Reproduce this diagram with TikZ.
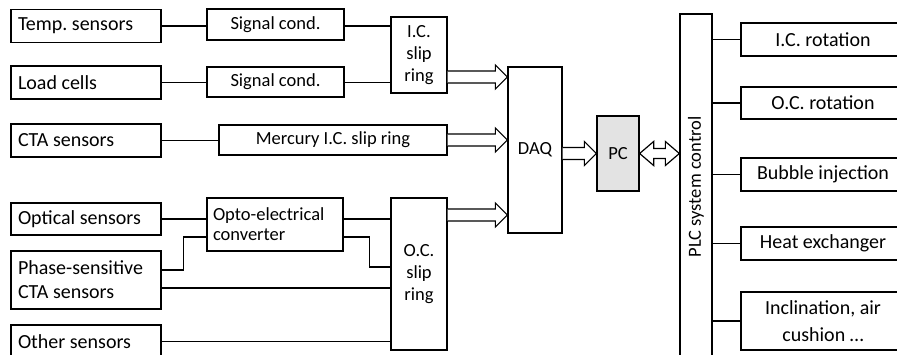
\documentclass[tikz,border=0pt]{standalone}
\usepackage{fontspec}
\setmainfont{Carlito}
\usetikzlibrary{calc}
\frenchspacing
\newcommand{\bigsize}{\fontsize{20}{24}\selectfont}
\newcommand{\smallsize}{\fontsize{18.5}{22}\selectfont}
% hollow arrow, from the y of #1 to the x of #2
\newcommand{\fatarrow}[2]{%
  \draw[fat] let \p1=(#1), \p2=(#2) in
    (\x1,\y1+6pt) -- (\x2-12pt,\y1+6pt) -- (\x2-12pt,\y1+12pt) -- (\x2,\y1)
    -- (\x2-12pt,\y1-12pt) -- (\x2-12pt,\y1-6pt) -- (\x1,\y1-6pt);}
\newcommand{\fatdarrow}[2]{%
  \draw[fat] let \p1=(#1), \p2=(#2) in
    (\x1,\y1) -- (\x1+14pt,\y1+12pt) -- (\x1+14pt,\y1+5pt) -- (\x2-14pt,\y1+5pt)
    -- (\x2-14pt,\y1+12pt) -- (\x2,\y1) -- (\x2-14pt,\y1-12pt) -- (\x2-14pt,\y1-5pt)
    -- (\x1+14pt,\y1-5pt) -- (\x1+14pt,\y1-12pt) -- cycle;}
\begin{document}
\begin{tikzpicture}[x=1pt,y=-1pt,
  box/.style={draw,line width=1.3pt,inner sep=0pt,font=\bigsize},
  sensor/.style={box,text width=136pt,align=flush left,inner xsep=7pt},
  cond/.style={box,font=\smallsize,align=center},
  outbox/.style={box,minimum width=164pt,align=center},
  link/.style={line width=1.2pt},
  fat/.style={line width=1.2pt,fill=white,line join=miter}]
\useasboundingbox (0,0) rectangle (897,355);
\clip (0,0) rectangle (897,355);
\node[sensor,minimum height=33pt] (temp) at (86,26) {Temp. sensors};
\node[sensor,minimum height=33pt] (load) at (86,82.5) {Load cells};
\node[sensor,minimum height=33pt] (cta) at (86,140.5) {CTA sensors};
\node[sensor,minimum height=32pt] (optical) at (86,219) {Optical sensors};
\node[sensor,minimum height=58pt] (phase) at (86,280) {Phase-sensitive\\CTA sensors};
\node[sensor,minimum height=33pt] (other) at (86,341.5) {Other sensors};
\node[cond,minimum width=137pt,minimum height=31pt] (cond1) at (275.5,24.5) {Signal cond.};
\node[cond,minimum width=137pt,minimum height=30pt] (cond2) at (275.5,82) {Signal cond.};
\node[cond,minimum width=228pt,minimum height=30pt] (mercury) at (333,140) {Mercury I.C. slip ring};
\node[cond,text width=124pt,align=flush left,inner xsep=6pt,minimum height=53pt,
  font=\fontsize{18.5}{20}\selectfont] (opto) at (275,224.5) {Opto-electrical\\converter};
\node[cond,minimum width=56pt,minimum height=76pt] (icslip) at (419,55) {I.C.\\slip\\ring};
\node[cond,minimum width=56pt,minimum height=152pt] (ocslip) at (419,274) {O.C.\\slip\\ring};
\node[cond,minimum width=54pt,minimum height=166pt] (daq) at (535,150) {DAQ};
\node[cond,minimum width=42pt,minimum height=75pt,fill=gray!22] (pc) at (618,153.5) {PC};
\node[cond,rotate=90,minimum width=346pt,minimum height=32pt] (plc) at (696,187) {PLC system control};
\node[outbox,minimum height=33pt] (icrot) at (823,39.5) {I.C. rotation};
\node[outbox,minimum height=32pt] (ocrot) at (823,103) {O.C. rotation};
\node[outbox,minimum height=33pt] (bubble) at (823,174.5) {Bubble injection};
\node[outbox,minimum height=33pt] (heat) at (823,243.5) {Heat exchanger};
\node[outbox,minimum height=58pt,font=\fontsize{20}{27}\selectfont] (incl) at (823,321) {Inclination, air\\cushion \dots};
\coordinate (optoin) at ([yshift=-12.5pt]opto.west);
\coordinate (optoout) at ([yshift=-12.5pt]opto.east);
\draw[link] (temp.east) -- (temp.east -| cond1.west);
\draw[link] (cond1.east |- temp.east) -- (temp.east -| icslip.west);
\draw[link] (load.east) -- (load.east -| cond2.west);
\draw[link] (cond2.east |- load.east) -- (load.east -| icslip.west);
\draw[link] (cta.east) -- (cta.east -| mercury.west);
\draw[link] (optical.east) -- (optical.east -| opto.west);
\draw[link] (opto.east |- optical.east) -- (optical.east -| ocslip.west);
\draw[link] ([yshift=10pt]phase.east) -| ([xshift=-23pt]optoin) -- (optoin);
\draw[link] (optoout) -- ++(26pt,0) |- ([yshift=7pt]ocslip.west);
\draw[link] ([yshift=-8pt]phase.east) coordinate (p2) -- (p2 -| ocslip.west);
\draw[link] (other.east) -- (other.east -| ocslip.west);
\fatarrow{[yshift=-22pt]icslip.east}{daq.west}
\fatarrow{mercury.east}{daq.west}
\fatarrow{[yshift=59pt]ocslip.east}{daq.west}
\fatarrow{daq.east |- pc.west}{pc.west}
\fatdarrow{pc.east}{plc.north}
\draw[link] (icrot.west -| plc.south) -- (icrot.west);
\draw[link] (ocrot.west -| plc.south) -- (ocrot.west);
\draw[link] (bubble.west -| plc.south) -- (bubble.west);
\draw[link] (heat.west -| plc.south) -- (heat.west);
\draw[link] (incl.west -| plc.south) -- (incl.west);
\end{tikzpicture}
\end{document}
